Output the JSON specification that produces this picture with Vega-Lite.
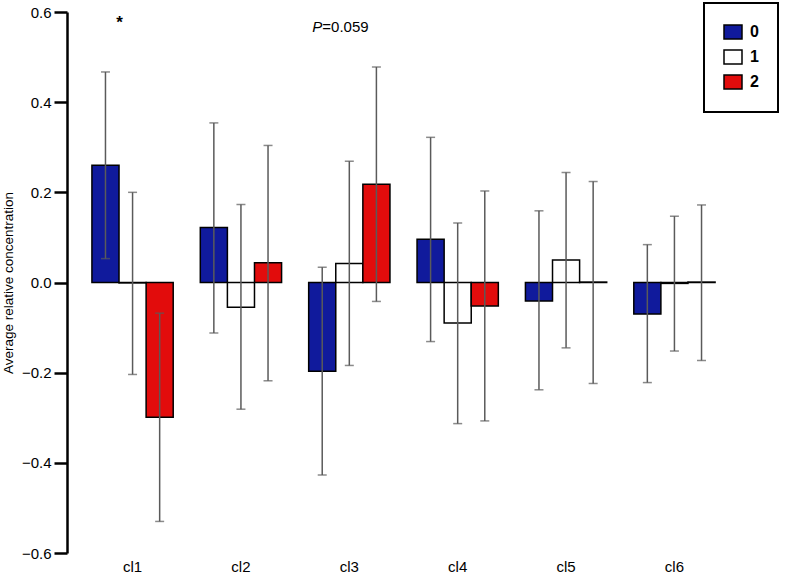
{
  "$schema": "https://vega.github.io/schema/vega-lite/v6.json",
  "width": 673,
  "height": 541,
  "autosize": "none",
  "padding": {"left": 67, "top": 12, "right": 52, "bottom": 23},
  "background": "white",
  "config": {
    "view": {"stroke": null},
    "font": "Liberation Sans",
    "legend": {"strokeColor": "black", "strokeWidth": 2}
  },
  "datasets": {
    "bars": [
      {"cluster": "cl1", "group": "0", "mean": 0.26, "lo": 0.053, "hi": 0.467},
      {"cluster": "cl1", "group": "1", "mean": -0.001, "lo": -0.204, "hi": 0.2},
      {"cluster": "cl1", "group": "2", "mean": -0.299, "lo": -0.53, "hi": -0.068},
      {"cluster": "cl2", "group": "0", "mean": 0.122, "lo": -0.112, "hi": 0.354},
      {"cluster": "cl2", "group": "1", "mean": -0.055, "lo": -0.281, "hi": 0.173},
      {"cluster": "cl2", "group": "2", "mean": 0.044, "lo": -0.218, "hi": 0.304},
      {"cluster": "cl3", "group": "0", "mean": -0.197, "lo": -0.427, "hi": 0.034},
      {"cluster": "cl3", "group": "1", "mean": 0.042, "lo": -0.184, "hi": 0.269},
      {"cluster": "cl3", "group": "2", "mean": 0.218, "lo": -0.042, "hi": 0.478},
      {"cluster": "cl4", "group": "0", "mean": 0.096, "lo": -0.131, "hi": 0.322},
      {"cluster": "cl4", "group": "1", "mean": -0.09, "lo": -0.313, "hi": 0.132},
      {"cluster": "cl4", "group": "2", "mean": -0.052, "lo": -0.307, "hi": 0.203},
      {"cluster": "cl5", "group": "0", "mean": -0.041, "lo": -0.238, "hi": 0.159},
      {"cluster": "cl5", "group": "1", "mean": 0.05, "lo": -0.145, "hi": 0.244},
      {"cluster": "cl5", "group": "2", "mean": 0.001, "lo": -0.224, "hi": 0.224},
      {"cluster": "cl6", "group": "0", "mean": -0.07, "lo": -0.222, "hi": 0.084},
      {"cluster": "cl6", "group": "1", "mean": -0.002, "lo": -0.152, "hi": 0.147},
      {"cluster": "cl6", "group": "2", "mean": 0.001, "lo": -0.173, "hi": 0.172}
    ]
  },
  "layer": [
    {
      "data": {"name": "bars"},
      "mark": {"type": "bar", "stroke": "black", "strokeWidth": 1.5},
      "encoding": {
        "x": {
          "field": "cluster", "type": "nominal", "sort": null,
          "scale": {"paddingInner": 0.25, "paddingOuter": 0.23},
          "axis": {"title": null, "domain": false, "ticks": false, "labelAngle": 0,
                   "labelFontSize": 15, "labelColor": "black", "labelPadding": 6}
        },
        "xOffset": {"field": "group", "type": "nominal", "scale": {"paddingInner": 0, "paddingOuter": 0}},
        "y": {
          "field": "mean", "type": "quantitative",
          "scale": {"domain": [-0.6, 0.6], "nice": false},
          "axis": {
            "title": "Average relative concentration", "titleFontSize": 13.5, "titleFontWeight": "normal",
            "titleColor": "black", "titlePadding": 6,
            "values": [-0.6, -0.4, -0.2, 0, 0.2, 0.4, 0.6], "format": ".1f",
            "grid": false, "domainColor": "black", "domainWidth": 2.5,
            "tickColor": "black", "tickWidth": 2.5, "tickSize": 13,
            "labelFontSize": 15, "labelColor": "black", "labelPadding": 3
          }
        },
        "color": {
          "field": "group", "type": "nominal",
          "scale": {"domain": ["0", "1", "2"], "range": ["#101a9c", "#ffffff", "#e20c0c"]},
          "legend": {
            "title": null, "orient": "none", "legendX": 637, "legendY": -9,
            "padding": 19, "rowPadding": 3,
            "symbolType": "M-1,-0.78H1V0.78H-1Z", "symbolSize": 324,
            "symbolStrokeColor": "black", "symbolStrokeWidth": 1.5,
            "labelFontSize": 16, "labelFontWeight": "bold", "labelColor": "black",
            "labelOffset": 7,
            "labelExpr": "datum.label + '\u00a0\u00a0\u00a0\u00a0\u00a0\u00a0\u00a0\u00a0\u00a0\u00a0'"
          }
        }
      }
    },
    {
      "data": {"name": "bars"},
      "mark": {"type": "rule", "color": "#5a5a5a", "strokeWidth": 1.5},
      "encoding": {
        "x": {"field": "cluster", "type": "nominal", "sort": null},
        "xOffset": {"field": "group", "type": "nominal"},
        "y": {"field": "lo", "type": "quantitative"},
        "y2": {"field": "hi"}
      }
    },
    {
      "data": {"name": "bars"},
      "transform": [{"fold": ["lo", "hi"], "as": ["end", "val"]}],
      "mark": {"type": "tick", "color": "#5a5a5a", "size": 9, "thickness": 1.5, "orient": "horizontal"},
      "encoding": {
        "x": {"field": "cluster", "type": "nominal", "sort": null},
        "xOffset": {"field": "group", "type": "nominal"},
        "y": {"field": "val", "type": "quantitative"}
      }
    },
    {
      "data": {"values": [{"cluster": "cl1", "y": 0.575, "t": "*"}]},
      "mark": {"type": "text", "fontSize": 17, "fontWeight": "bold", "dx": -13, "color": "black"},
      "encoding": {
        "x": {"field": "cluster", "type": "nominal", "sort": null},
        "y": {"field": "y", "type": "quantitative"},
        "text": {"field": "t"}
      }
    },
    {
      "data": {"values": [{"cluster": "cl3", "y": 0.567, "t": "P"}]},
      "mark": {"type": "text", "fontSize": 15, "fontStyle": "italic", "align": "right", "dx": -27, "color": "black"},
      "encoding": {
        "x": {"field": "cluster", "type": "nominal", "sort": null},
        "y": {"field": "y", "type": "quantitative"},
        "text": {"field": "t"}
      }
    },
    {
      "data": {"values": [{"cluster": "cl3", "y": 0.567, "t": "=0.059"}]},
      "mark": {"type": "text", "fontSize": 15, "align": "left", "dx": -27, "color": "black"},
      "encoding": {
        "x": {"field": "cluster", "type": "nominal", "sort": null},
        "y": {"field": "y", "type": "quantitative"},
        "text": {"field": "t"}
      }
    }
  ]
}
